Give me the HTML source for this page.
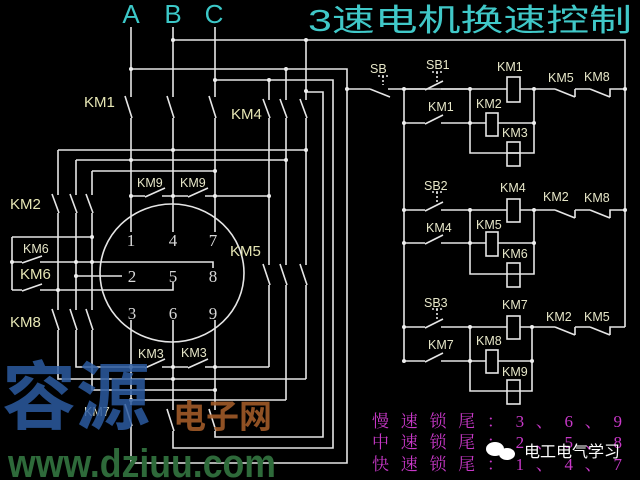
<!DOCTYPE html>
<html><head><meta charset="utf-8"><style>
html,body{margin:0;padding:0;background:#000;width:640px;height:480px;overflow:hidden}
svg{display:block}
.l{stroke:#e6e6e6;stroke-width:1.6;fill:none}
.t{font-family:"Liberation Sans",sans-serif;fill:#e6e6b4;font-size:15px}
.c{font-family:"Liberation Sans",sans-serif;fill:#e6e6c8;font-size:12.5px}
.n{font-family:"Liberation Serif",serif;fill:#d8d8d8;font-size:17px;text-anchor:middle}
</style></head><body>
<svg width="640" height="480" viewBox="0 0 640 480">
<rect width="640" height="480" fill="#000"/>
<!-- titles -->
<g font-family="Liberation Sans,sans-serif" fill="#3cc8c8" font-size="26" text-anchor="middle">
<text x="131" y="23">A</text><text x="173" y="23">B</text><text x="214" y="23">C</text></g>
<text x="308" y="31" font-family="'Liberation Sans','Noto Sans CJK SC',sans-serif" font-size="31" fill="#40c8c8" textLength="324" lengthAdjust="spacingAndGlyphs">3速电机换速控制</text>

<g class="l">
<!-- phase A -->
<path d="M131 27V97M125 96L132 118M131 118V232M131 320V405M125 404L132 426M131 426V463H347V69H131"/>
<!-- phase B -->
<path d="M173 27V97M167 96L174 118M173 118V232M173 320V410M167 409L174 431M173 431V448H333V80H215"/>
<!-- phase C -->
<path d="M215 27V97M209 96L216 118M215 118V232M215 320V410M209 409L216 431M215 431V437H323V92H306"/>
<path d="M173 40H625V327"/>
<!-- KM4 / KM5 columns -->
<path d="M269 80V100M263 99L270 118M269 118V265M263 264L270 285M269 285V367"/>
<path d="M286 69V100M280 99L287 118M286 118V265M280 264L287 285M286 285V400"/>
<path d="M306 40V100M300 99L307 118M306 118V265M300 264L307 285M306 285V379"/>
<!-- horizontal buses -->
<path d="M58 150H306M76 160H286M92 171H215"/>
<!-- KM9 -->
<path d="M131 196H145M145 197L165 188M162 196H188M188 197L208 188M205 196H269"/>
<!-- KM2 / KM8 columns -->
<path d="M58 150V195M52 194L59 213M58 213V310M52 309L59 330M58 330V379H306"/>
<path d="M76 160V195M70 194L77 213M76 213V310M70 309L77 330M76 330V367H131"/>
<path d="M92 171V195M86 194L93 213M92 213V310M86 309L93 330M92 330V390H215"/>
<path d="M131 400H286"/>
<!-- KM3 -->
<path d="M131 367H145M145 368L165 359M162 367H188M188 368L208 359M205 367H269"/>
<!-- KM6 box -->
<path d="M12 237V290M12 237H92M12 262H22M22 263L42 256M40 262H213V268M12 290H22M22 291L42 284M40 290H173V282M76 276H122"/>
<!-- motor -->
<ellipse cx="172" cy="273" rx="72" ry="69"/>
<!-- control circuit -->
<path d="M347 89H370M370 89L390 97M388 89H470M404 89V361"/>
<path d="M404 89H425M425 90L443 81M441 89H470"/>
<path d="M470 89H507M520 89H534V153H470V89M534 89H555M555 89L575 97M575 97V89M575 89H590M590 89L610 97M610 97V89H625"/>
<path d="M404 123H425M425 124L443 115M441 123H486M498 123H534M507 153H520"/>
<path d="M404 210H425M425 211L443 202M441 210H507M520 210H534V274H470V210M534 210H555M555 210L575 218M575 218V210M575 210H590M590 210L610 218M610 218V210H625"/>
<path d="M404 243H425M425 244L443 235M441 243H486M498 243H534"/>
<path d="M404 327H425M425 328L443 319M441 327H507M520 327H532V391H470V327M532 327H555M555 327L575 335M575 335V327M575 327H590M590 327L610 335M610 335V327H625"/>
<path d="M404 361H425M425 362L443 353M441 361H486M498 361H532"/>
<!-- pushbutton marks -->
<path d="M378 76H388M383 76V85M432 72H442M437 72V82M432 192H442M437 192V202M432 309H442M437 309V319" stroke-dasharray="2 2"/>
<!-- coils -->
<rect x="507" y="77" width="13" height="25"/><rect x="486" y="113" width="12" height="23"/><rect x="507" y="142" width="13" height="24"/>
<rect x="507" y="199" width="13" height="23"/><rect x="486" y="232" width="12" height="24"/><rect x="507" y="263" width="13" height="24"/>
<rect x="507" y="316" width="13" height="23"/><rect x="486" y="350" width="12" height="23"/><rect x="507" y="380" width="13" height="24"/>
</g>
<g fill="#eee">
<circle cx="173" cy="40" r="2"/><circle cx="306" cy="40" r="2"/><circle cx="131" cy="69" r="2"/><circle cx="286" cy="69" r="2"/>
<circle cx="215" cy="80" r="2"/><circle cx="269" cy="80" r="2"/><circle cx="306" cy="91" r="2"/><circle cx="347" cy="89" r="2"/>
<circle cx="173" cy="150" r="2"/><circle cx="306" cy="150" r="2"/><circle cx="131" cy="160" r="2"/><circle cx="286" cy="160" r="2"/>
<circle cx="215" cy="171" r="2"/><circle cx="131" cy="196" r="2"/><circle cx="173" cy="196" r="2"/><circle cx="215" cy="196" r="2"/><circle cx="269" cy="196" r="2"/>
<circle cx="92" cy="237" r="2"/><circle cx="12" cy="262" r="2"/><circle cx="76" cy="262" r="2"/><circle cx="92" cy="262" r="2"/>
<circle cx="76" cy="276" r="2"/><circle cx="58" cy="290" r="2"/>
<circle cx="131" cy="367" r="2"/><circle cx="173" cy="367" r="2"/><circle cx="215" cy="367" r="2"/><circle cx="173" cy="379" r="2"/>
<circle cx="215" cy="390" r="2"/><circle cx="131" cy="400" r="2"/>
<circle cx="404" cy="89" r="2"/><circle cx="470" cy="89" r="2"/><circle cx="534" cy="89" r="2"/><circle cx="625" cy="89" r="2"/>
<circle cx="404" cy="123" r="2"/><circle cx="470" cy="123" r="2"/><circle cx="534" cy="123" r="2"/>
<circle cx="404" cy="210" r="2"/><circle cx="470" cy="210" r="2"/><circle cx="534" cy="210" r="2"/><circle cx="625" cy="210" r="2"/>
<circle cx="404" cy="243" r="2"/><circle cx="470" cy="243" r="2"/><circle cx="534" cy="243" r="2"/>
<circle cx="404" cy="327" r="2"/><circle cx="470" cy="327" r="2"/><circle cx="532" cy="327" r="2"/>
<circle cx="404" cy="361" r="2"/><circle cx="470" cy="361" r="2"/><circle cx="532" cy="361" r="2"/>
</g>
<!-- numbers -->
<text class="n" x="131" y="246">1</text><text class="n" x="173" y="246">4</text><text class="n" x="213" y="246">7</text>
<text class="n" x="132" y="282">2</text><text class="n" x="173" y="282">5</text><text class="n" x="213" y="282">8</text>
<text class="n" x="132" y="319">3</text><text class="n" x="173" y="319">6</text><text class="n" x="213" y="319">9</text>
<!-- left labels -->
<text class="t" x="84" y="107">KM1</text><text class="t" x="231" y="119">KM4</text>
<text class="t" x="10" y="209">KM2</text><text class="t" x="230" y="256">KM5</text>
<text class="t" x="10" y="327">KM8</text>
<text class="c" x="23" y="253">KM6</text><text class="t" x="20" y="279">KM6</text>
<text class="c" x="137" y="187">KM9</text><text class="c" x="180" y="187">KM9</text>
<text class="c" x="138" y="358">KM3</text><text class="c" x="181" y="357">KM3</text>
<text class="c" x="84" y="416">KM7</text>
<!-- control labels -->
<text class="c" x="370" y="73">SB</text><text class="c" x="426" y="69">SB1</text><text class="c" x="497" y="71">KM1</text>
<text class="c" x="548" y="82">KM5</text><text class="c" x="584" y="81">KM8</text>
<text class="c" x="428" y="111">KM1</text><text class="c" x="476" y="108">KM2</text><text class="c" x="502" y="137">KM3</text>
<text class="c" x="424" y="190">SB2</text><text class="c" x="500" y="192">KM4</text><text class="c" x="543" y="201">KM2</text><text class="c" x="584" y="202">KM8</text>
<text class="c" x="426" y="232">KM4</text><text class="c" x="476" y="229">KM5</text><text class="c" x="502" y="258">KM6</text>
<text class="c" x="424" y="307">SB3</text><text class="c" x="502" y="309">KM7</text><text class="c" x="546" y="321">KM2</text><text class="c" x="584" y="321">KM5</text>
<text class="c" x="428" y="349">KM7</text><text class="c" x="476" y="345">KM8</text><text class="c" x="502" y="376">KM9</text>
<!-- magenta notes -->
<g font-family="'Liberation Serif','Noto Serif CJK SC',serif" font-size="17" fill="#c838c8">
<text x="372" y="427" textLength="250">慢速锁尾：3、6、9</text>
<text x="372" y="448" textLength="250">中速锁尾：2、5、8</text>
<text x="372" y="470" textLength="250">快速锁尾：1、4、7</text></g>
<!-- watermarks -->
<g fill="#fff"><ellipse cx="495" cy="449" rx="9" ry="7"/><ellipse cx="507" cy="454" rx="8" ry="6"/></g>
<text x="524" y="457" font-family="'Liberation Sans','Noto Sans CJK SC',sans-serif" font-size="16" fill="#fff">电工电气学习</text>
<text x="2" y="423" font-family="'Liberation Sans','Noto Sans CJK SC',sans-serif" font-size="74" font-weight="bold" fill="#2c5aa0" fill-opacity="0.85">容源</text>
<text x="173" y="428" font-family="'Liberation Sans','Noto Sans CJK SC',sans-serif" font-size="33" font-weight="bold" fill="#a05a28" fill-opacity="0.9">电子网</text>
<text x="8" y="477" font-family="'Liberation Sans',sans-serif" font-size="40" font-weight="bold" fill="#2e6a3a" textLength="268" lengthAdjust="spacingAndGlyphs">www.dziuu.com</text>
</svg>
</body></html>
